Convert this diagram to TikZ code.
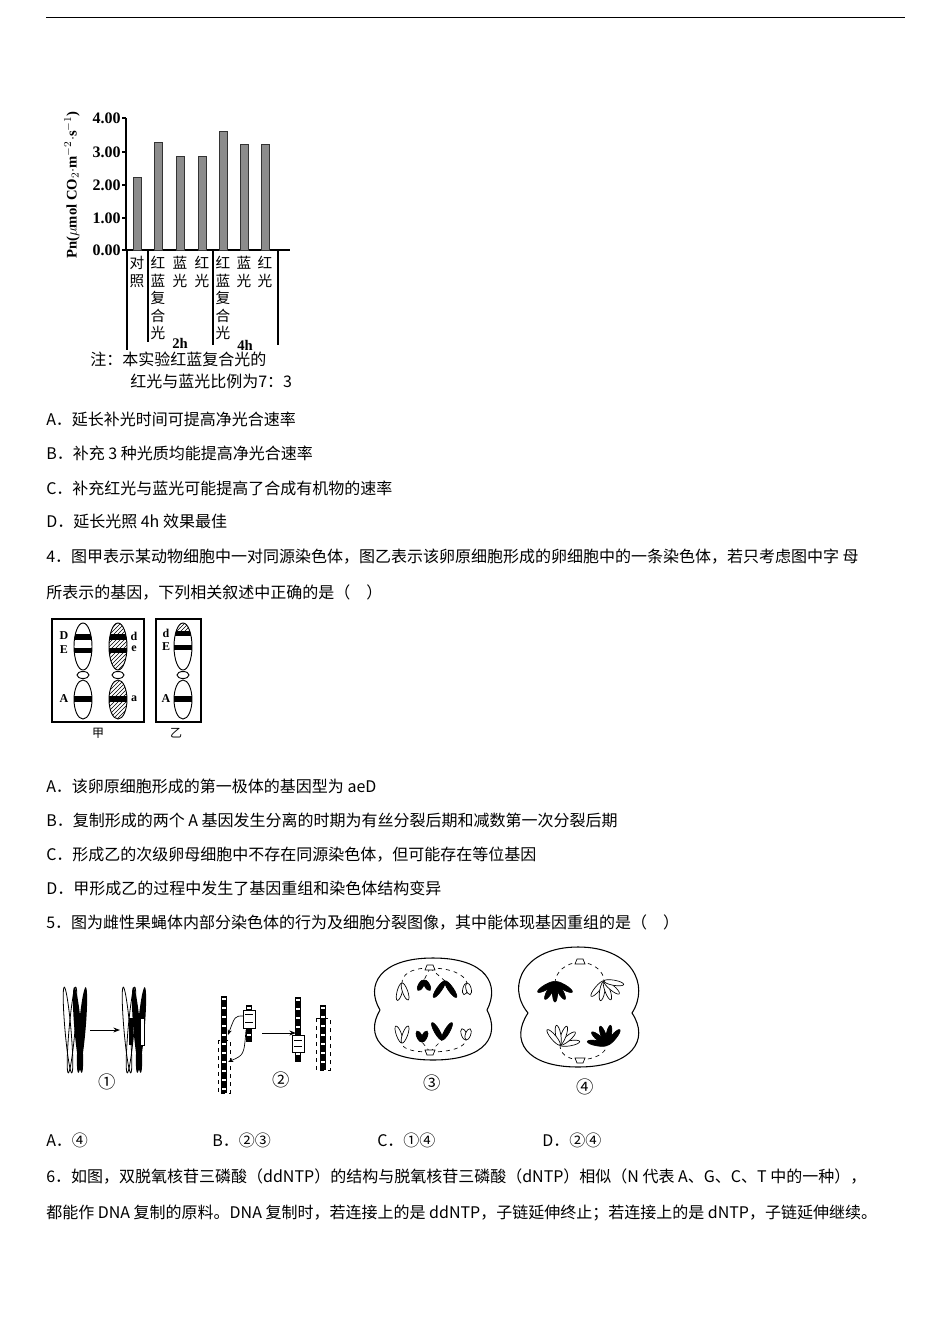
\documentclass[tikz,border=0pt]{standalone}
\usepackage{fontspec}
\setmainfont{Noto Sans CJK SC}
\newfontfamily\tms{Liberation Serif}
\usetikzlibrary{patterns,arrows.meta}
\newcommand\leafx[5][8]{\begin{scope}[shift={(#2,#3)},rotate=#4]\draw[line width=0.5pt,fill=#5] (0,-#1) ellipse [x radius=2.6,y radius=#1];\end{scope}}
\begin{document}
\begin{tikzpicture}[x=0.75pt,y=-0.75pt,
 txt/.style={anchor=west,inner sep=0,font=\fontsize{12}{14}\selectfont},
 tick/.style={anchor=east,inner sep=0,font=\tms\bfseries\fontsize{12}{14}\selectfont},
 vlab/.style={anchor=north,inner sep=0,align=center,font=\fontsize{11}{13.2}\selectfont},
 bar/.style={draw=black!80,fill=black!45,line width=0.6pt},
 gl/.style={inner sep=0,font=\tms\bfseries\fontsize{9}{10}\selectfont}]
\useasboundingbox (0,0) rectangle (950,1344);
\draw[line width=0.6pt] (46,17) -- (905,17);
% ---------- bar chart
\draw[line width=1pt] (126,118) -- (126,250) -- (290,250);
\foreach \v/\y in {4.00/118,3.00/152,2.00/185,1.00/218,0.00/250}{
  \draw[line width=1pt] (122,\y) -- (126,\y);
  \node[tick] (t\y) at (121,\y) {\v};}
\node[rotate=90,inner sep=0,font=\tms\bfseries\fontsize{11}{12}\selectfont] (ylab) at (72,185) {Pn($\mu$mol CO$_2$$\cdot$m$^{-2}\cdot$s$^{-1}$)};
\foreach \x/\v in {137/2.2,158/3.25,180/2.85,202/2.85,223/3.6,244/3.2,265/3.2}{
  \draw[bar] (\x-4,250) rectangle (\x+4,250-33*\v);}
\foreach \x/\b in {127/350,148/342,213/345,278/345}{\draw[line width=0.8pt] (\x,250) -- (\x,\b);}
\node[vlab] (l1) at (137,256) {对\\照};
\node[vlab] (l2) at (158,256) {红\\蓝\\复\\合\\光};
\node[vlab] (l3) at (180,256) {蓝\\光};
\node[vlab] (l4) at (202,256) {红\\光};
\node[vlab] (l5) at (223,256) {红\\蓝\\复\\合\\光};
\node[vlab] (l6) at (244,256) {蓝\\光};
\node[vlab] (l7) at (265,256) {红\\光};
\node[gl,font=\tms\bfseries\fontsize{11}{12}\selectfont] (h2) at (180,343) {2h};
\node[gl,font=\tms\bfseries\fontsize{11}{12}\selectfont] (h4) at (245,345) {4h};
\node[txt,font=\fontsize{12}{14}\selectfont] (n1) at (90,359) {注：本实验红蓝复合光的};
\node[txt,font=\fontsize{12}{14}\selectfont] (n2) at (130,381) {红光与蓝光比例为7：3};
% ---------- text lines
\node[txt] (a3) at (46,419) {A．延长补光时间可提高净光合速率};
\node[txt] (b3) at (46,453) {B．补充 3 种光质均能提高净光合速率};
\node[txt] (c3) at (46,488) {C．补充红光与蓝光可能提高了合成有机物的速率};
\node[txt] (d3) at (46,521) {D．延长光照 4h 效果最佳};
\node[txt] (q4) at (46,557) {4．图甲表示某动物细胞中一对同源染色体，图乙表示该卵原细胞形成的卵细胞中的一条染色体，若只考虑图中字 母};
\node[txt] (q4b) at (46,593) {所表示的基因，下列相关叙述中正确的是（　）};
\node[txt] (a4) at (46,786) {A．该卵原细胞形成的第一极体的基因型为 aeD};
\node[txt] (b4) at (46,820) {B．复制形成的两个 A 基因发生分离的时期为有丝分裂后期和减数第一次分裂后期};
\node[txt] (c4) at (46,855) {C．形成乙的次级卵母细胞中不存在同源染色体，但可能存在等位基因};
\node[txt] (d4) at (46,888) {D．甲形成乙的过程中发生了基因重组和染色体结构变异};
\node[txt] (q5) at (46,922) {5．图为雌性果蝇体内部分染色体的行为及细胞分裂图像，其中能体现基因重组的是（　）};
\node[txt] (a5) at (46,1140) {A．④};
\node[txt] (b5) at (212,1140) {B．②③};
\node[txt] (c5) at (377,1140) {C．①④};
\node[txt] (d5) at (542,1140) {D．②④};
\node[txt] (q6) at (46,1176) {6．如图，双脱氧核苷三磷酸（ddNTP）的结构与脱氧核苷三磷酸（dNTP）相似（N 代表 A、G、C、T 中的一种），};
\node[txt] (q6b) at (46,1213) {都能作 DNA 复制的原料。DNA 复制时，若连接上的是 ddNTP，子链延伸终止；若连接上的是 dNTP，子链延伸继续。};
% ---------- chromosomes (Q4)
\draw[line width=0.8pt] (52,619) rectangle (144,722);
\draw[line width=0.8pt] (156,619) rectangle (201,722);
\foreach \cx/\h in {83/0,118/1,183/2}{
  \ifnum\h=1
   \fill[pattern=north east lines] (\cx,646.5) ellipse [x radius=9,y radius=23.5];
   \fill[pattern=north east lines] (\cx,699.5) ellipse [x radius=9,y radius=19.5];
   \fill[pattern=north east lines] (\cx,675) ellipse [x radius=6,y radius=3.5];
  \fi
  \ifnum\h=2
   \begin{scope}\clip (\cx,646.5) ellipse [x radius=9,y radius=23.5];
   \fill[pattern=north east lines] (\cx-9,622) rectangle (\cx+9,631);\end{scope}
  \fi
  \begin{scope}\clip (\cx,646.5) ellipse [x radius=9,y radius=23.5] (\cx,699.5) ellipse [x radius=9,y radius=19.5];
  \ifnum\h=2
   \fill (\cx-9,631) rectangle (\cx+9,636);\fill (\cx-9,645) rectangle (\cx+9,650);
  \else
   \fill (\cx-9,634) rectangle (\cx+9,640);\fill (\cx-9,648) rectangle (\cx+9,653);
  \fi
   \fill (\cx-9,696) rectangle (\cx+9,702);
  \end{scope}
  \draw[line width=0.7pt] (\cx,646.5) ellipse [x radius=9,y radius=23.5];
  \draw[line width=0.7pt,fill=white] (\cx,675) ellipse [x radius=6,y radius=3.5];
  \draw[line width=0.7pt] (\cx,699.5) ellipse [x radius=9,y radius=19.5];
}
\node[gl] (gD) at (64,636) {D};
\node[gl] (gE) at (64,650) {E};
\node[gl] (gA) at (64,699) {A};
\node[gl] (gd) at (134,636) {d};
\node[gl] (ge) at (134,649) {e};
\node[gl] (ga) at (134,699) {a};
\node[gl] (yd) at (166,633) {d};
\node[gl] (yE) at (166,647) {E};
\node[gl] (yA) at (166,699) {A};
\node[inner sep=0,font=\fontsize{9}{10}\selectfont] (jia) at (98,733) {甲};
\node[inner sep=0,font=\fontsize{9}{10}\selectfont] (yi) at (176,733) {乙};
% ---------- Q5 figure 1
\foreach \cx/\w in {70/0,80/1,129/0,139/1}{
  \ifnum\w=0
   \draw[line width=0.6pt,rotate around={5:(\cx-2,1030)}] (\cx-2,1030) ellipse [x radius=3,y radius=43];
   \draw[line width=0.6pt,rotate around={-5:(\cx+2,1030)}] (\cx+2,1030) ellipse [x radius=3,y radius=43];
  \else
   \fill[rotate around={5:(\cx-2,1030)}] (\cx-2,1030) ellipse [x radius=3.5,y radius=43];
   \fill[rotate around={-5:(\cx+2,1030)}] (\cx+2,1030) ellipse [x radius=3.5,y radius=43];
  \fi}
\fill[white] (140,1018) rectangle (144,1045);\draw[line width=0.6pt] (140,1018) rectangle (144,1045);
\fill (129,1018) rectangle (133,1045);
\coordinate (p1a) at (90,1030); \coordinate (p1b) at (120,1030);
\draw[-{Stealth[length=5pt]},line width=0.7pt] (p1a) -- (p1b);
\node[inner sep=0,font=\fontsize{13}{14}\selectfont] (c1) at (107,1082) {①};
% ---------- figure 2
\newcommand\chbar[3]{\fill (#1-3,#2) rectangle (#1+3,#3);
  \foreach \yy in {#2,...,#3}{\pgfmathparse{mod(\yy-#2,9)==2?1:0}\ifnum\pgfmathresult=1\fill[white] (#1-2,\yy) rectangle (#1+2,\yy+2);\fi}}
\chbar{224}{996}{1093}
\chbar{249}{1005}{1042}
\chbar{298}{997}{1062}
\chbar{323}{1005}{1070}
\draw[dashed,line width=0.5pt] (218,1040) rectangle (230,1093);
\draw[dashed,line width=0.5pt] (316,1018) rectangle (330,1070);
\draw[line width=0.6pt,fill=white] (243,1010) rectangle (255,1028);
\draw[line width=0.6pt,fill=white] (292,1035) rectangle (304,1052);
\draw (245,1014)--(253,1014) (245,1022)--(253,1022) (294,1040)--(302,1040) (294,1046)--(302,1046);
\draw[-{Stealth[length=4pt]},line width=0.5pt] (243,1016) .. controls (235,1016) .. (228,1035);
\draw[-{Stealth[length=4pt]},line width=0.5pt] (246,1030) .. controls (244,1055) .. (228,1062);
\draw[-{Stealth[length=5pt]},line width=0.7pt] (262,1033) -- (296,1033);
\node[inner sep=0,font=\fontsize{13}{14}\selectfont] (c2) at (281,1080) {②};
% ---------- figure 3
\draw[line width=0.8pt] (380,1010) .. controls (365,985) and (380,958) .. (433,958) .. controls (487,958) and (500,985) .. (487,1010) .. controls (500,1035) and (487,1060) .. (433,1060) .. controls (380,1060) and (365,1035) .. (380,1010);
\draw[dashed,line width=0.5pt] (430,968) .. controls (410,968) and (402,975) .. (402,983);
\draw[dashed,line width=0.5pt] (430,968) .. controls (452,968) and (465,975) .. (467,983);
\draw[dashed,line width=0.5pt] (430,968) -- (424,980) (430,968) -- (445,981);
\draw[dashed,line width=0.5pt] (430,1052) .. controls (410,1052) and (402,1048) .. (402,1043);
\draw[dashed,line width=0.5pt] (430,1052) .. controls (452,1052) and (465,1047) .. (466,1040);
\draw[dashed,line width=0.5pt] (430,1052) -- (422,1042) (430,1052) -- (442,1040);
\draw[fill=white,line width=0.5pt] (425,970) -- (435,970) -- (433,965) -- (427,965) -- cycle;
\draw[fill=white,line width=0.5pt] (425,1050) -- (435,1050) -- (433,1055) -- (427,1055) -- cycle;
\leafx[9]{402}{983}{165}{white}\leafx[9]{402}{983}{200}{white}
\leafx[6]{424}{980}{210}{black}\leafx[6]{424}{980}{150}{black}
\leafx[10]{445}{981}{215}{black}\leafx[10]{445}{981}{145}{black}
\leafx[6]{467}{983}{165}{white}\leafx[6]{467}{983}{195}{white}
\leafx[9]{402}{1043}{20}{white}\leafx[9]{402}{1043}{-20}{white}
\leafx[6]{422}{1042}{25}{black}\leafx[6]{422}{1042}{-25}{black}
\leafx[10]{442}{1040}{30}{black}\leafx[10]{442}{1040}{-30}{black}
\leafx[6]{466}{1040}{20}{white}\leafx[6]{466}{1040}{-20}{white}
\node[inner sep=0,font=\fontsize{13}{14}\selectfont] (c3) at (432,1083) {③};
% ---------- figure 4
\draw[line width=0.8pt] (528,1013) .. controls (505,985) and (525,947) .. (578,947) .. controls (632,947) and (650,985) .. (632,1013) .. controls (650,1040) and (632,1067) .. (578,1067) .. controls (525,1067) and (510,1040) .. (528,1013);
\draw[dashed,line width=0.5pt] (580,962) .. controls (565,963) and (556,972) .. (555,982);
\draw[dashed,line width=0.5pt] (580,962) .. controls (595,963) and (604,972) .. (604,981);
\draw[dashed,line width=0.5pt] (580,1060) .. controls (566,1059) and (560,1053) .. (560,1045);
\draw[dashed,line width=0.5pt] (580,1060) .. controls (596,1059) and (606,1053) .. (607,1045);
\draw[fill=white,line width=0.5pt] (575,964) -- (585,964) -- (583,959) -- (577,959) -- cycle;
\draw[fill=white,line width=0.5pt] (575,1058) -- (585,1058) -- (583,1063) -- (577,1063) -- cycle;
\foreach \a in {120,150,180,210,240}{\leafx[10]{555}{982}{\a}{black}}
\foreach \a in {140,170,200,230,260}{\leafx[10]{604}{981}{\a}{white}}
\foreach \a in {-80,-50,-20,10,40}{\leafx[10]{560}{1045}{\a}{white}}
\foreach \a in {-40,-10,20,50,80}{\leafx[10]{607}{1045}{\a}{black}}
\node[inner sep=0,font=\fontsize{13}{14}\selectfont] (c4) at (585,1087) {④};
\end{tikzpicture}
\end{document}
